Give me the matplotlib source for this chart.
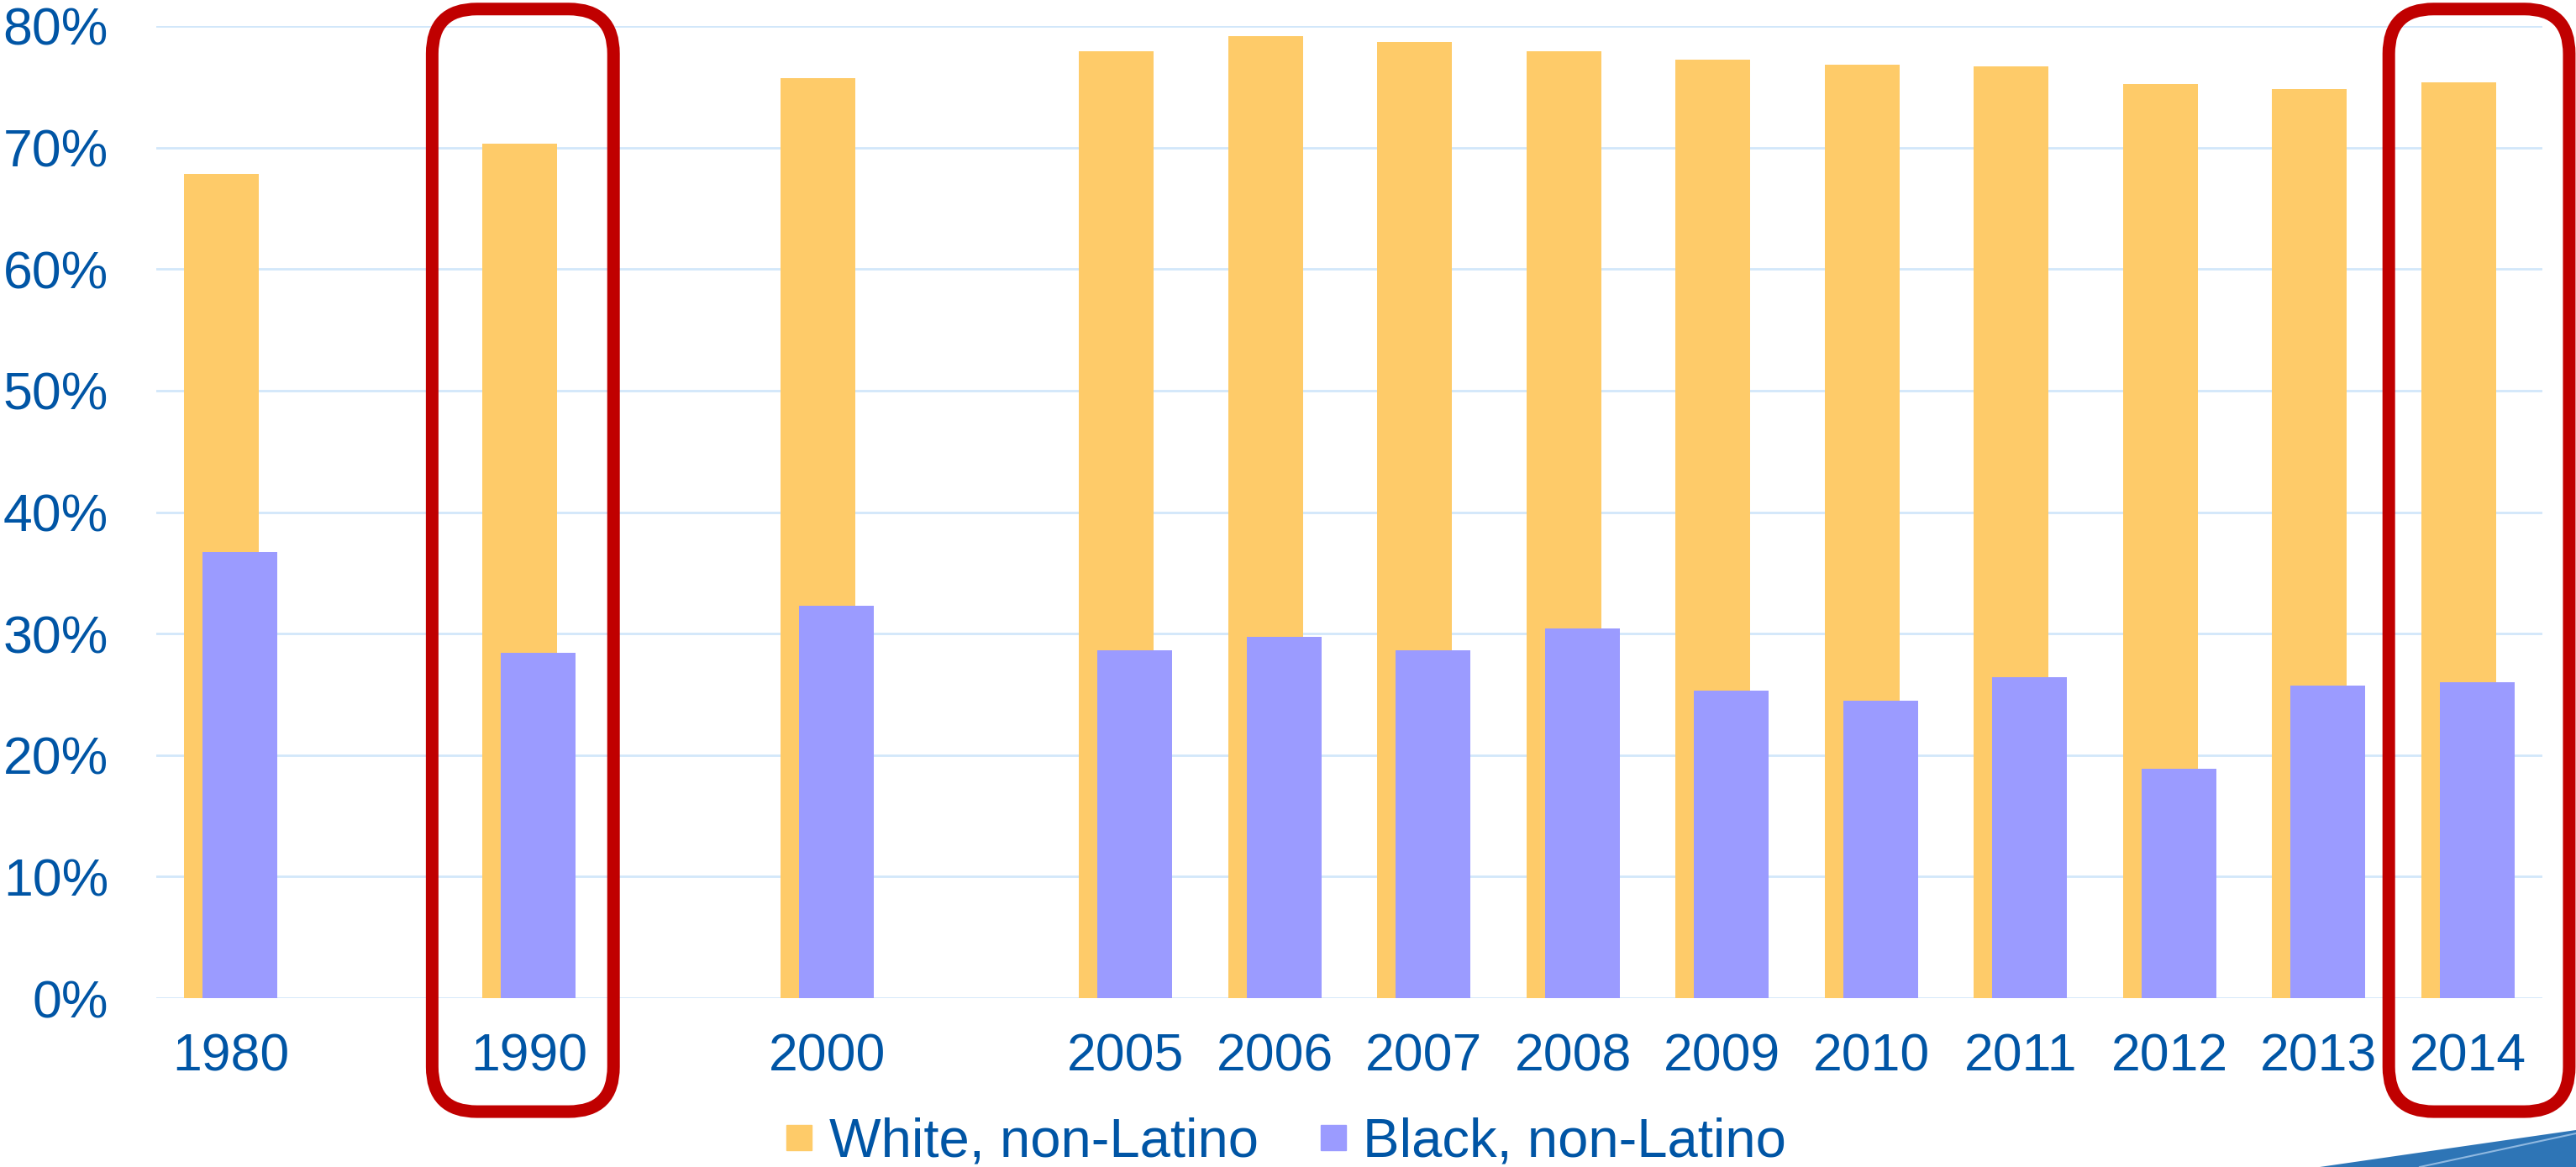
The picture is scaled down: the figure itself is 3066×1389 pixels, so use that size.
import numpy as np
import matplotlib
matplotlib.use("Agg")
import matplotlib.pyplot as plt
from matplotlib.patches import FancyBboxPatch, Polygon
from matplotlib.lines import Line2D
from matplotlib.ticker import PercentFormatter

plt.rcParams['font.family'] = ['Liberation Sans', 'DejaVu Sans']

# category slots on the axis, blanks leave gaps between the decades
slots = ['1980', '', '1990', '', '2000', '', '2005', '2006', '2007', '2008',
         '2009', '2010', '2011', '2012', '2013', '2014']
years = ['1980', '1990', '2000', '2005', '2006', '2007', '2008',
         '2009', '2010', '2011', '2012', '2013', '2014']
white = [67.8, 70.3, 75.7, 77.9, 79.2, 78.7, 77.9, 77.2, 76.8, 76.7, 75.2, 74.8, 75.4]
black = [36.7, 28.4, 32.3, 28.6, 29.7, 28.65, 30.4, 25.3, 24.5, 26.4, 18.9, 25.75, 26.0]
highlight = ['1990', '2014']

c_white = '#FECB69'
c_black = '#9B9BFF'
c_text = '#0055A5'
c_grid = '#D2E7FA'
c_red = '#C00000'

W, H = 3066, 1389
fig = plt.figure(figsize=(W / 100, H / 100), dpi=100)
ax = fig.add_axes([186 / W, 1 - 1188 / H, (3026 - 186) / W, (1188 - 31) / H])

x = np.array([slots.index(y) for y in years])
w = np.array(white) / 100
b = np.array(black) / 100

ax.bar(x - 0.0625, w, width=0.5, color=c_white, zorder=2)
ax.bar(x + 0.0625, b, width=0.5, color=c_black, zorder=3)

ax.set_xlim(-0.5, len(slots) - 0.5)
ax.set_ylim(0, 0.8)
ax.set_yticks(np.arange(0, 0.81, 0.1))
ax.yaxis.set_major_formatter(PercentFormatter(1.0, decimals=0))
ax.set_xticks(x)
ax.set_xticklabels(years)
ax.grid(axis='y', color=c_grid, lw=2.0, zorder=0)
ax.set_axisbelow(True)
for s in ax.spines.values():
    s.set_visible(False)
ax.tick_params(axis='y', length=0, pad=41, labelsize=45, labelcolor=c_text)
ax.tick_params(axis='x', length=0, pad=29, labelsize=45, labelcolor=c_text)

# rounded red frames around the highlighted years
ax_w = (3026 - 186)
ax_h = (1188 - 31)
px_x = ax_w / len(slots)
px_y = ax_h / 0.8
aspect = px_x / px_y
offsets = {'1990': (-0.65, 0.566), '2014': (-0.53, 0.68)}
for yr in highlight:
    xc = slots.index(yr)
    lo, hi = offsets[yr]
    y0, y1 = -0.0934, 0.814
    box = FancyBboxPatch((xc + lo, y0), hi - lo, y1 - y0,
                         boxstyle='round,pad=0,rounding_size=0.3',
                         mutation_aspect=aspect, transform=ax.transData,
                         fill=False, ec=c_red, lw=10.8, clip_on=False, zorder=5)
    ax.add_patch(box)

handles = [Line2D([], [], marker='s', ls='none', markersize=22, color=c_white),
           Line2D([], [], marker='s', ls='none', markersize=22, color=c_black)]
fig.legend(handles, ['White, non-Latino', 'Black, non-Latino'], loc='center',
           bbox_to_anchor=(0.4987, 0.021), ncol=2, frameon=False, fontsize=47,
           labelcolor=c_text, handlelength=0.6, handletextpad=0.24,
           columnspacing=1.07, borderaxespad=0, borderpad=0)

# slide corner decoration
fig.patches.append(Polygon([(2761 / W, 0), (1, 44 / H), (1, 0)], closed=True,
                           transform=fig.transFigure, fc='#2E75B6', ec='none'))
fig.lines.append(Line2D([2880 / W, 1], [0, 40 / H], transform=fig.transFigure,
                        color='#8FB8E0', lw=1.5))

fig.savefig('out.png', dpi=100)
